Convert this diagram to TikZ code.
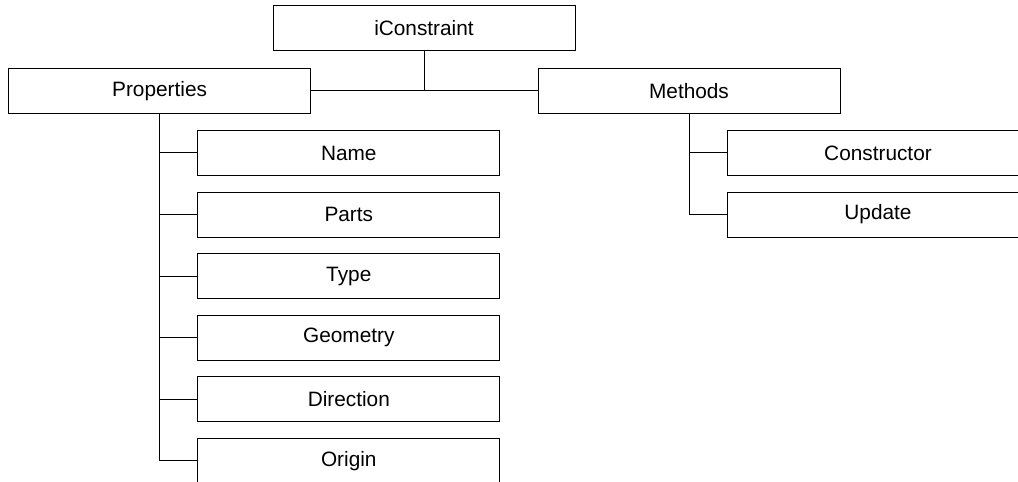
\documentclass[tikz,border=0pt]{standalone}
\usepackage{fontspec}
\setmainfont{Liberation Sans}
\begin{document}
\begin{tikzpicture}[
    member/.style={draw, line width=0.7pt, minimum width=7.55cm,
                   minimum height=1.125cm, inner sep=0pt,
                   font=\fontsize{14.8pt}{17pt}\selectfont},
    link/.style={draw, line width=0.7pt},
]
\clip (0,0) rectangle (25.45,12.05);

\node[member] (iconstr) at (10.6, 11.34) {iConstraint};
\node[member] (props) at (3.99, 9.775) {Properties};
\node[member] (methods) at (17.225, 9.775) {Methods};

% properties
\node[member] (name) at (8.72, 8.225) {Name};
\node[member] (parts) at (8.72, 6.685) {Parts};
\node[member] (type) at (8.72, 5.145) {Type};
\node[member] (geom) at (8.72, 3.605) {Geometry};
\node[member] (dir) at (8.72, 2.065) {Direction};
\node[member] (origin) at (8.72, 0.525) {Origin};

% methods
\node[member] (ctor) at (21.95, 8.225) {Constructor};
\node[member] (update) at (21.95, 6.685) {Update};

\draw[link] (iconstr) -- (iconstr |- props);
\draw[link] (props) -- (methods);

\draw[link] (props.south) |- (name.west);
\draw[link] (props.south) |- (parts.west);
\draw[link] (props.south) |- (type.west);
\draw[link] (props.south) |- (geom.west);
\draw[link] (props.south) |- (dir.west);
\draw[link] (props.south) |- (origin.west);

\draw[link] (methods.south) |- (ctor.west);
\draw[link] (methods.south) |- (update.west);
\end{tikzpicture}
\end{document}
